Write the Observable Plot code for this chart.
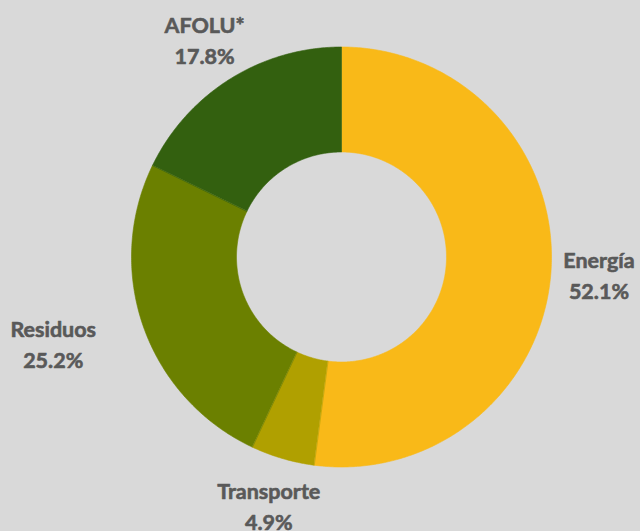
<!DOCTYPE html>
<html>
<head>
<meta charset="utf-8">
<script src="https://cdn.jsdelivr.net/npm/d3@7"></script>
<script src="https://cdn.jsdelivr.net/npm/@observablehq/plot@0.6"></script>
<style>
  html, body { margin: 0; padding: 0; background: #d9d9d9; }
  #chart { width: 640px; height: 531px; }
</style>
</head>
<body>
<div id="chart"></div>
<script>
// Data
const categories = ["Energía", "Transporte", "Residuos", "AFOLU*"];
const shares = [52.1, 4.9, 25.2, 17.8];
const colors = ["#f9b918", "#b0a000", "#6b8000", "#33600f"];
const labelAnchors = ["middle", "middle", "end", "middle"];

// Layout (pixels)
const W = 640, H = 531;
const cx = 341, cy = 256.5, R = 210;
const innerRatio = 0.5;
const labelRatio = 258 / 210;

const data = categories.map((name, i) => ({name, value: shares[i], anchor: labelAnchors[i]}));
const arcs = d3.pie().sort(null).value(d => d.value)(data);

// Build slice outline points (in units of outer radius), angle from 12 o'clock clockwise
const pts = [];
for (const a of arcs) {
  const n = Math.max(4, Math.ceil((a.endAngle - a.startAngle) / 0.01));
  for (let k = 0; k <= n; k++) {
    const t = a.startAngle + (a.endAngle - a.startAngle) * k / n;
    pts.push({name: a.data.name, x: Math.sin(t), y: Math.cos(t)});
  }
  for (let k = n; k >= 0; k--) {
    const t = a.startAngle + (a.endAngle - a.startAngle) * k / n;
    pts.push({name: a.data.name, x: innerRatio * Math.sin(t), y: innerRatio * Math.cos(t)});
  }
}

const labels = arcs.map(a => {
  const m = (a.startAngle + a.endAngle) / 2;
  return {
    name: a.data.name,
    text: a.data.name + "\n" + a.data.value.toFixed(1) + "%",
    x: labelRatio * Math.sin(m),
    y: labelRatio * Math.cos(m),
    anchor: a.data.anchor
  };
});

const color = {domain: categories, range: colors};

const textOpts = {
  x: "x", y: "y", text: "text",
  fill: "#595959", stroke: "#595959", strokeWidth: 0.6,
  fontSize: 21.5, fontWeight: 700, lineHeight: 1.44,
  fontFamily: "Lato, 'Open Sans', sans-serif"
};

const chart = Plot.plot({
  width: W, height: H,
  margin: 0,
  style: {background: "#d9d9d9", fontFamily: "Lato, sans-serif", overflow: "visible"},
  x: {domain: [-cx / R, (W - cx) / R], axis: null},
  y: {domain: [-(H - cy) / R, cy / R], axis: null},
  color,
  marks: [
    Plot.line(pts, {x: "x", y: "y", z: "name", fill: "name", stroke: "name", strokeWidth: 0.6, curve: "linear-closed"}),
    Plot.text(labels.filter(d => d.anchor === "middle"), {...textOpts, textAnchor: "middle"}),
    Plot.text(labels.filter(d => d.anchor === "end"), {...textOpts, textAnchor: "middle", dx: -45})
  ]
});
document.getElementById("chart").appendChild(chart);
</script>
</body>
</html>
